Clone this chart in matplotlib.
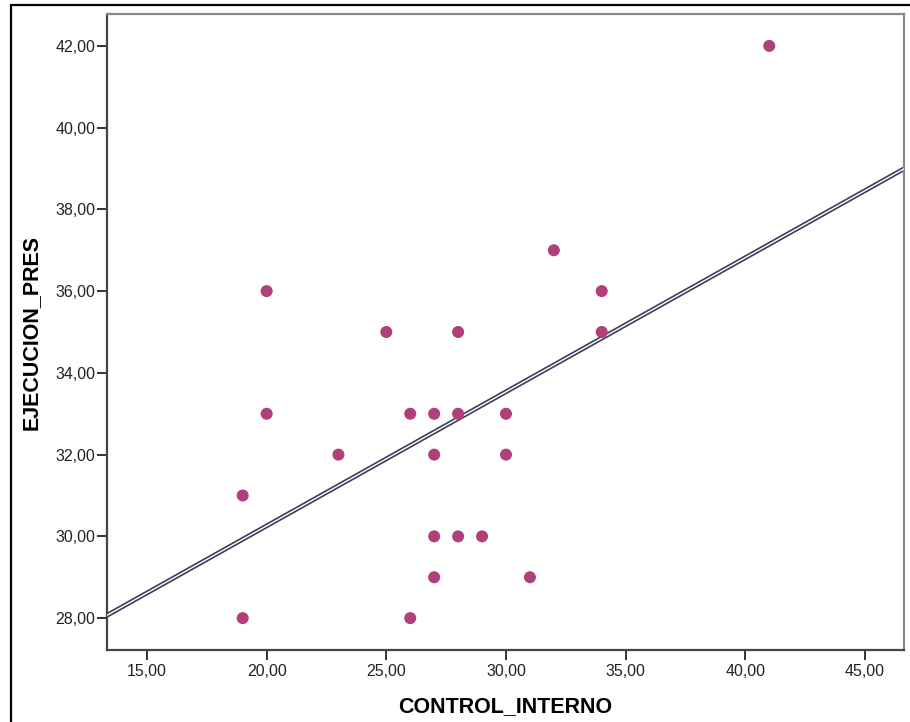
import numpy as np
import matplotlib
matplotlib.use('Agg')
import matplotlib.pyplot as plt
from matplotlib.patches import Rectangle
from matplotlib.ticker import FuncFormatter

plt.rcParams['font.family'] = ['Liberation Sans', 'DejaVu Sans']

# data
control_interno = [41, 32, 20, 34, 25, 28, 34, 20, 26, 27, 28, 30,
                   23, 27, 30, 19, 27, 28, 29, 27, 31, 19, 26]
ejecucion_pres = [42, 37, 36, 36, 35, 35, 35, 33, 33, 33, 33, 33,
                  32, 32, 32, 31, 30, 30, 30, 29, 29, 28, 28]
x_ticks = [15, 20, 25, 30, 35, 40, 45]
y_ticks = [28, 30, 32, 34, 36, 38, 40, 42]

fig = plt.figure(figsize=(9.1, 7.22), dpi=100)
ax = fig.add_axes([107/910, 72/722, 797/910, 636/722])

xlim = (13.33, 46.63)
ylim = (27.22, 42.78)

# fit line (double line look)
slope, icpt = np.polyfit(control_interno, ejecucion_pres, 1)
xs = np.array(xlim)
ax.plot(xs, icpt + slope * xs, color='#3d3d5c', lw=3.4, solid_capstyle='butt', zorder=2)
ax.plot(xs, icpt + slope * xs, color='white', lw=1.0, solid_capstyle='butt', zorder=3)

ax.scatter(control_interno, ejecucion_pres, s=75, color='#b0407a',
           edgecolors='none', zorder=4)

ax.set_xlim(*xlim)
ax.set_ylim(*ylim)
ax.set_xticks(x_ticks)
ax.set_yticks(y_ticks)
fmt = FuncFormatter(lambda v, p: ('%.2f' % v).replace('.', ','))
ax.xaxis.set_major_formatter(fmt)
ax.yaxis.set_major_formatter(fmt)
ax.tick_params(direction='out', length=7, width=1.4, colors='#333333',
               labelsize=11.5, labelcolor='#222222', pad=1.5)
ax.tick_params(axis='x', pad=3)

for s in ['left', 'bottom']:
    ax.spines[s].set_color('#444444')
    ax.spines[s].set_linewidth(1.6)
for s in ['top', 'right']:
    ax.spines[s].set_color('#888888')
    ax.spines[s].set_linewidth(1.6)

ax.set_xlabel('CONTROL_INTERNO', fontsize=15.5, fontweight='bold')
ax.set_ylabel('EJECUCION_PRES', fontsize=15.5, fontweight='bold')
ax.xaxis.set_label_coords(0.5, -0.073)
ax.yaxis.set_label_coords(-0.0816, 0.5)

# outer frame
fig.patches.append(Rectangle((11/910, -0.05), 1.0, 1 - 5/722 + 0.05,
                             transform=fig.transFigure, fill=False,
                             edgecolor='black', lw=1.6))

fig.savefig('out.png', dpi=100)
